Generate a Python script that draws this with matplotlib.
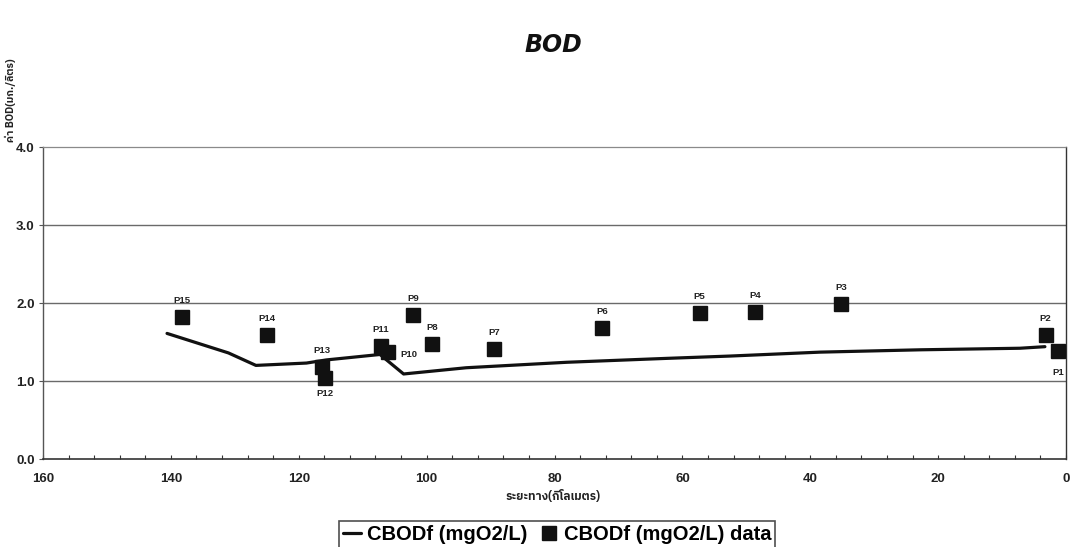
import matplotlib
matplotlib.use("Agg")
import matplotlib.pyplot as plt
from matplotlib import font_manager as fm
from matplotlib.ft2font import FT2Font
from matplotlib.ticker import MultipleLocator

# ---------------- data ----------------
station_labels = ["P1", "P2", "P3", "P4", "P5", "P6", "P7", "P8", "P9", "P10",
                  "P11", "P12", "P13", "P14", "P15"]
station_km = [1.2, 3.2, 35.2, 48.6, 57.3, 72.5, 89.4, 99.1, 102.1, 106.1,
              107.2, 115.9, 116.4, 125.0, 138.3]
station_bod = [1.38, 1.59, 1.99, 1.88, 1.87, 1.68, 1.41, 1.47, 1.85, 1.37,
               1.45, 1.04, 1.18, 1.59, 1.82]

model_km = [140.6, 131.0, 126.7, 118.8, 115.7, 107.3, 103.6, 93.8, 78.1,
            62.5, 52.5, 38.5, 22.8, 7.2, 3.3]
model_bod = [1.61, 1.36, 1.20, 1.23, 1.27, 1.34, 1.09, 1.17, 1.24,
             1.29, 1.32, 1.37, 1.40, 1.42, 1.44]

x_ticks = [160, 140, 120, 100, 80, 60, 40, 20, 0]
y_ticks = [0.0, 1.0, 2.0, 3.0, 4.0]

title = "BOD"
x_label = "ระยะทาง(กิโลเมตร)"
y_label = "ค่า BOD(มก./ลิตร)"
legend_line = "CBODf (mgO2/L)"
legend_data = "CBODf (mgO2/L) data"

# label offsets (points) for each station label
label_offsets = {"P1": (0, -15), "P10": (15, -2), "P12": (0, -11)}

# ---------------- fonts ----------------
def find_thai_font():
    best = None
    for path in sorted(fm.findSystemFonts()):
        try:
            f = FT2Font(path)
            cm = f.get_charmap()
        except Exception:
            continue
        if 0x0E01 in cm and 0x0041 in cm:
            low = path.lower()
            score = 0
            if "sans" in low:
                score += 2
            if "bold" in low:
                score += 1
            if "loop" in low or "serif" in low or "mono" in low:
                score -= 3
            if best is None or score > best[0]:
                best = (score, path)
    return best[1] if best else None

thai_path = find_thai_font()
if thai_path:
    thai_fp = fm.FontProperties(fname=thai_path, size=8.5, weight="bold")
    thai_fp_y = fm.FontProperties(fname=thai_path, size=7.5, weight="bold")
else:
    thai_fp = fm.FontProperties(family="DejaVu Sans", size=8.5, weight="bold")
    thai_fp_y = fm.FontProperties(family="DejaVu Sans", size=7.5, weight="bold")

plt.rcParams["font.family"] = ["Liberation Sans", "DejaVu Sans"]

# ---------------- figure ----------------
fig = plt.figure(figsize=(10.7, 5.47), dpi=100)
ax = fig.add_axes([43 / 1070, 1 - 459 / 547, (1066 - 43) / 1070, (459 - 147) / 547])

ax.set_xlim(160, 0)
ax.set_ylim(0, 4)

for yv in y_ticks[1:4]:
    ax.axhline(yv, color="#6a6a6a", lw=1.0, zorder=1)

line_h, = ax.plot(model_km, model_bod, color="#111111", lw=2.3,
                  solid_capstyle="round", solid_joinstyle="round", zorder=3,
                  label=legend_line)
pts_h, = ax.plot(station_km, station_bod, "s", color="#111111", ms=9.5,
                 ls="none", zorder=4, label=legend_data)

for lab, xk, yb in zip(station_labels, station_km, station_bod):
    off = label_offsets.get(lab, (0, 12))
    ax.annotate(lab, (xk, yb), xytext=off, textcoords="offset points",
                ha="center", va="center", fontsize=6.8, fontweight="bold",
                color="#222222", zorder=5)

ax.set_xticks(x_ticks)
ax.set_yticks(y_ticks)
ax.xaxis.set_minor_locator(MultipleLocator(4))
ax.set_xticklabels([str(v) for v in x_ticks], fontsize=9.5, fontweight="bold")
ax.set_yticklabels([f"{v:.1f}" for v in y_ticks], fontsize=9.5, fontweight="bold")
ax.tick_params(axis="x", which="both", direction="in", length=3, width=0.8,
               pad=10, colors="#333333", labelcolor="#222222")
ax.tick_params(axis="y", which="major", direction="out", length=3, width=0.8,
               pad=3, colors="#555555", labelcolor="#222222")

ax.spines["top"].set_color("#8a8a8a")
ax.spines["top"].set_linestyle((0, (2, 1)))
ax.spines["top"].set_linewidth(0.9)
ax.spines["left"].set_color("#555555")
ax.spines["left"].set_linewidth(1.0)
ax.spines["bottom"].set_color("#333333")
ax.spines["bottom"].set_linewidth(1.2)
ax.spines["right"].set_color("#333333")
ax.spines["right"].set_linewidth(1.0)

fig.text(553 / 1070, 1 - 45 / 547, title, ha="center", va="center",
         fontsize=17, fontweight="bold", fontstyle="italic", color="#111111",
         family="DejaVu Sans")
fig.text(553 / 1070, 1 - 497 / 547, x_label, ha="center", va="center",
         fontproperties=thai_fp, color="#222222")
fig.text(10 / 1070, 1 - 100 / 547, y_label, ha="center", va="center",
         rotation=90, fontproperties=thai_fp_y, color="#222222")

leg = fig.legend(handles=[line_h, pts_h], loc="upper center",
                 bbox_to_anchor=(557 / 1070, 1 - 511 / 547), ncol=2,
                 frameon=True, fancybox=False, handlelength=0.9,
                 handletextpad=0.3, columnspacing=0.6, borderpad=0.2,
                 prop={"size": 14.5, "weight": "bold"})
leg.get_frame().set_edgecolor("#222222")
leg.get_frame().set_linewidth(1.2)

fig.savefig("out.png", dpi=100, facecolor="white")
